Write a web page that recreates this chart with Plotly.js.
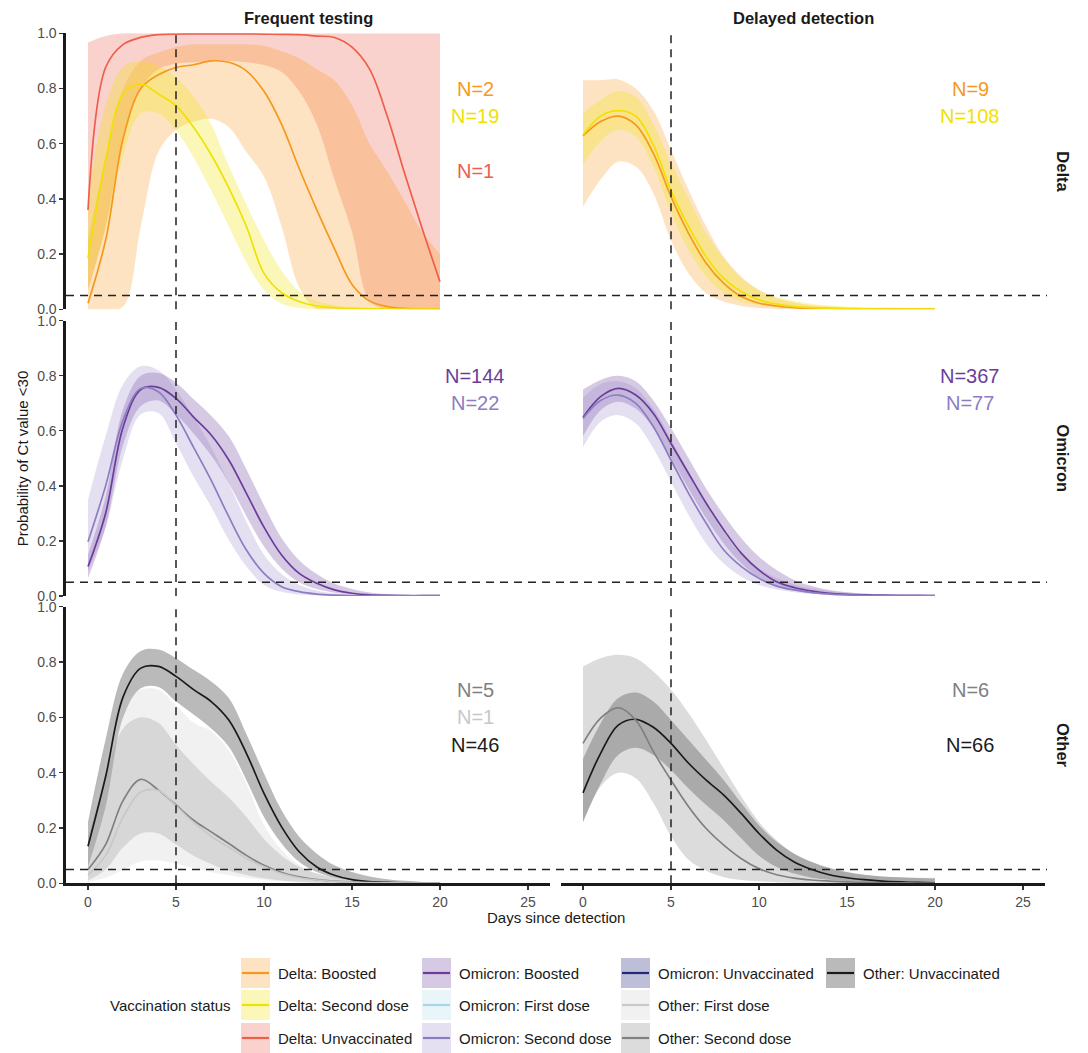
<!DOCTYPE html>
<html><head><meta charset="utf-8">
<script src="https://cdn.plot.ly/plotly-3.0.1.min.js"></script>
<style>html,body{margin:0;padding:0;background:#fff}#chart{width:1088px;height:1053px}</style>
</head><body><div id="chart"></div>
<script>
// ---------------- DATA ----------------
const days = [0,1,2,3,4,5,6,7,8,9,10,11,12,13,14,15,16,17,18,19,20];
const colTitles = ["Frequent testing", "Delayed detection"];
const rowTitles = ["Delta", "Omicron", "Other"];
const xTicks = [0,5,10,15,20,25];
const yTicks = [0,0.2,0.4,0.6,0.8,1.0];
const yTickText = ["0.0","0.2","0.4","0.6","0.8","1.0"];
const thresholdDay = 5;
const thresholdProb = 0.05;
const nLabelDay = 22;
const nLabelY = {"Boosted":0.8, "Second dose":0.7, "First dose":0.6, "Unvaccinated":0.5};

// Delta, Frequent testing
const dfBoostMid = [0.022,0.25,0.62,0.80,0.85,0.876,0.886,0.90,0.895,0.864,0.79,0.67,0.51,0.36,0.22,0.09,0.03,0.01,0.003,0.001,0.0005];
const dfBoostUp  = [0.25,0.55,0.80,0.90,0.93,0.95,0.96,0.96,0.96,0.96,0.955,0.935,0.91,0.87,0.83,0.74,0.60,0.50,0.39,0.28,0.20];
const dfBoostLo  = [0,0,0.01,0.30,0.57,0.65,0.68,0.69,0.66,0.57,0.48,0.30,0.08,0,0,0,0,0,0,0,0];
const dfSecMid = [0.185,0.54,0.78,0.816,0.78,0.737,0.66,0.56,0.44,0.30,0.13,0.06,0.028,0.012,0.006,0.003,0.002,0.001,0.001,0.001,0.001];
const dfSecUp  = [0.40,0.74,0.88,0.90,0.88,0.84,0.77,0.67,0.52,0.38,0.25,0.14,0.065,0.03,0.015,0.008,0.004,0.003,0.002,0.002,0.002];
const dfSecLo  = [0.07,0.29,0.56,0.71,0.71,0.65,0.55,0.43,0.30,0.17,0.07,0.02,0.005,0.001,0,0,0,0,0,0,0];
const dfUnvMid = [0.36,0.876,0.96,0.985,0.995,0.997,0.998,0.998,0.998,0.998,0.997,0.996,0.995,0.99,0.985,0.95,0.87,0.70,0.49,0.29,0.10];
const dfUnvUp  = [0.967,0.99,1,1,1,1,1,1,1,1,1,1,1,1,1,1,1,1,1,1,1];
const dfUnvLo  = [0.07,0.30,0.62,0.80,0.87,0.89,0.895,0.90,0.90,0.895,0.885,0.86,0.79,0.67,0.47,0.28,0.03,0,0,0,0];

// Delta, Delayed detection
const ddBoostMid = [0.628,0.68,0.70,0.668,0.565,0.408,0.275,0.167,0.094,0.046,0.022,0.012,0.006,0.003,0.002,0.001,0.001,0.001,0.001,0.001,0.001];
const ddBoostUp  = [0.83,0.83,0.833,0.80,0.72,0.577,0.432,0.30,0.19,0.118,0.07,0.04,0.025,0.015,0.01,0.007,0.005,0.004,0.003,0.003,0.002];
const ddBoostLo  = [0.372,0.47,0.535,0.517,0.42,0.25,0.13,0.058,0.028,0.012,0.005,0.002,0.001,0,0,0,0,0,0,0,0];
const ddSecMid = [0.632,0.70,0.72,0.70,0.595,0.43,0.30,0.19,0.112,0.064,0.034,0.019,0.01,0.006,0.004,0.002,0.002,0.001,0.001,0.001,0.001];
const ddSecUp  = [0.71,0.758,0.79,0.77,0.67,0.53,0.40,0.275,0.185,0.112,0.07,0.046,0.03,0.02,0.014,0.01,0.008,0.007,0.006,0.005,0.005];
const ddSecLo  = [0.523,0.61,0.65,0.626,0.517,0.35,0.215,0.118,0.058,0.028,0.016,0.008,0.003,0.002,0.001,0.001,0,0,0,0,0];

// Omicron, Frequent testing
const ofBoostMid = [0.107,0.30,0.615,0.75,0.758,0.718,0.65,0.585,0.494,0.373,0.25,0.149,0.082,0.046,0.022,0.01,0.004,0.002,0.001,0.001,0.001];
const ofBoostUp  = [0.15,0.36,0.68,0.80,0.81,0.775,0.715,0.655,0.58,0.46,0.33,0.21,0.13,0.08,0.045,0.025,0.013,0.007,0.004,0.002,0.002];
const ofBoostLo  = [0.065,0.25,0.55,0.69,0.71,0.66,0.59,0.51,0.41,0.29,0.18,0.10,0.05,0.025,0.012,0.006,0.002,0.001,0.001,0,0];
const ofSecMid = [0.197,0.40,0.64,0.754,0.742,0.657,0.54,0.42,0.288,0.167,0.082,0.034,0.016,0.007,0.003,0.001,0.001,0.001,0.001,0.001,0.001];
const ofSecUp  = [0.35,0.58,0.77,0.835,0.82,0.75,0.65,0.54,0.41,0.27,0.15,0.08,0.04,0.02,0.01,0.005,0.003,0.002,0.001,0.001,0.001];
const ofSecLo  = [0.09,0.25,0.50,0.66,0.665,0.555,0.433,0.324,0.203,0.107,0.04,0.015,0.005,0.002,0.001,0,0,0,0,0,0];

// Omicron, Delayed detection
const odBoostMid = [0.649,0.724,0.754,0.73,0.663,0.554,0.445,0.337,0.24,0.155,0.094,0.052,0.031,0.018,0.01,0.006,0.004,0.003,0.002,0.002,0.001];
const odBoostUp  = [0.75,0.785,0.80,0.78,0.71,0.61,0.50,0.39,0.294,0.21,0.143,0.094,0.058,0.036,0.022,0.014,0.009,0.006,0.004,0.003,0.002];
const odBoostLo  = [0.58,0.675,0.706,0.68,0.61,0.50,0.39,0.282,0.19,0.118,0.064,0.034,0.019,0.01,0.005,0.002,0.001,0.001,0,0,0];
const odSecMid = [0.645,0.71,0.73,0.70,0.615,0.494,0.373,0.264,0.167,0.107,0.064,0.036,0.022,0.012,0.007,0.004,0.002,0.002,0.001,0.001,0.001];
const odSecUp  = [0.72,0.77,0.78,0.755,0.68,0.57,0.45,0.33,0.23,0.15,0.10,0.065,0.042,0.028,0.018,0.012,0.008,0.005,0.004,0.003,0.002];
const odSecLo  = [0.54,0.633,0.657,0.627,0.536,0.415,0.294,0.19,0.118,0.07,0.04,0.024,0.014,0.008,0.005,0.002,0.001,0,0,0,0];

// Other, Frequent testing
const xfUnvMid = [0.134,0.385,0.675,0.778,0.784,0.748,0.70,0.657,0.59,0.47,0.325,0.204,0.114,0.059,0.029,0.013,0.006,0.003,0.001,0.001,0.001];
const xfUnvUp  = [0.222,0.52,0.76,0.84,0.845,0.814,0.772,0.73,0.67,0.54,0.397,0.264,0.168,0.107,0.065,0.041,0.025,0.015,0.009,0.005,0.003];
const xfUnvLo  = [0.06,0.277,0.60,0.705,0.71,0.657,0.61,0.56,0.494,0.373,0.24,0.144,0.077,0.041,0.02,0.011,0.005,0.002,0.001,0.001,0.001];
const xfSecMid = [0.05,0.14,0.30,0.376,0.337,0.283,0.228,0.186,0.144,0.101,0.065,0.039,0.023,0.013,0.008,0.005,0.003,0.002,0.002,0.001,0.001];
const xfSecUp  = [0.17,0.38,0.56,0.60,0.58,0.50,0.43,0.367,0.31,0.24,0.16,0.10,0.06,0.035,0.02,0.012,0.007,0.004,0.002,0.002,0.002];
const xfSecLo  = [0.01,0.05,0.13,0.18,0.18,0.14,0.10,0.07,0.045,0.03,0.018,0.01,0.006,0.003,0.002,0.001,0.001,0,0,0,0];
const xfFirMid = [0.03,0.10,0.24,0.33,0.335,0.28,0.22,0.17,0.13,0.09,0.06,0.035,0.02,0.012,0.007,0.004,0.002,0.002,0.001,0.001,0.001];
const xfFirUp  = [0.20,0.45,0.65,0.70,0.70,0.645,0.58,0.55,0.48,0.36,0.21,0.12,0.065,0.035,0.02,0.012,0.007,0.004,0.003,0.002,0.001];
const xfFirLo  = [0.005,0.02,0.05,0.08,0.082,0.07,0.055,0.04,0.03,0.02,0.012,0.007,0.003,0.002,0.001,0,0,0,0,0,0];

// Other, Delayed detection
const xdSecMid = [0.506,0.597,0.635,0.59,0.476,0.373,0.277,0.198,0.138,0.089,0.053,0.031,0.019,0.012,0.008,0.005,0.003,0.002,0.002,0.001,0.001];
const xdSecUp  = [0.784,0.814,0.826,0.814,0.766,0.70,0.615,0.518,0.415,0.313,0.222,0.156,0.107,0.077,0.053,0.039,0.03,0.025,0.022,0.02,0.02];
const xdSecLo  = [0.22,0.35,0.40,0.38,0.29,0.17,0.085,0.045,0.022,0.012,0.007,0.004,0.002,0.001,0.001,0,0,0,0,0,0];
const xdUnvMid = [0.327,0.47,0.572,0.593,0.564,0.506,0.434,0.373,0.319,0.252,0.18,0.12,0.077,0.05,0.031,0.02,0.013,0.008,0.005,0.003,0.002];
const xdUnvUp  = [0.45,0.578,0.67,0.69,0.657,0.59,0.518,0.446,0.373,0.289,0.21,0.15,0.107,0.077,0.056,0.041,0.031,0.025,0.022,0.019,0.017];
const xdUnvLo  = [0.222,0.36,0.464,0.49,0.464,0.41,0.343,0.283,0.228,0.162,0.10,0.059,0.035,0.02,0.013,0.008,0.005,0.003,0.002,0.001,0.001];

// Sample sizes
const nDeltaFreq = [2, 19, 1];      // Boosted, Second dose, Unvaccinated
const nDeltaDelay = [9, 108];       // Boosted, Second dose
const nOmiFreq = [144, 22];         // Boosted, Second dose
const nOmiDelay = [367, 77];        // Boosted, Second dose
const nOtherFreq = [5, 1, 46];      // Second dose, First dose, Unvaccinated
const nOtherDelay = [6, 66];        // Second dose, Unvaccinated

// Legend entries (column-major, 3 rows)
const legendNames = ["Delta: Boosted","Delta: Second dose","Delta: Unvaccinated",
  "Omicron: Boosted","Omicron: First dose","Omicron: Second dose",
  "Omicron: Unvaccinated","Other: First dose","Other: Second dose","Other: Unvaccinated"];

// ---------------- STYLE ----------------
const lineColor = {
  "Delta: Boosted":"#F7981D","Delta: Second dose":"#F0E100","Delta: Unvaccinated":"#EE5E4B",
  "Omicron: Boosted":"#6A3D9A","Omicron: First dose":"#A6D6E8","Omicron: Second dose":"#8E7CC3",
  "Omicron: Unvaccinated":"#26287A","Other: First dose":"#C8C8C8","Other: Second dose":"#808080",
  "Other: Unvaccinated":"#1A1A1A"
};
const fillAlpha = {
  "Delta: Boosted":0.27,"Delta: Second dose":0.28,"Delta: Unvaccinated":0.28,
  "Omicron: Boosted":0.28,"Omicron: First dose":0.25,"Omicron: Second dose":0.24,
  "Omicron: Unvaccinated":0.3,"Other: First dose":0.25,"Other: Second dose":0.28,
  "Other: Unvaccinated":0.3
};
function rgba(hex, a){
  const v = parseInt(hex.slice(1),16);
  return `rgba(${(v>>16)&255},${(v>>8)&255},${v&255},${a})`;
}
const FONT = "Liberation Sans, Arial, Helvetica, sans-serif";
const W = 1088, H = 1053;
const px = v => v / W, py = v => 1 - v / H;

// panel geometry (pixels)
const colX = [[66, 550], [561, 1045]];
const rowY = [[33.3, 309.3], [320.7, 596], [606.7, 883.3]];

// ---------------- PANELS ----------------
const panels = [
  {r:0,c:0,series:[
    {name:"Delta: Unvaccinated", st:"Unvaccinated", mid:dfUnvMid, up:dfUnvUp, lo:dfUnvLo, n:nDeltaFreq[2]},
    {name:"Delta: Boosted", st:"Boosted", mid:dfBoostMid, up:dfBoostUp, lo:dfBoostLo, n:nDeltaFreq[0]},
    {name:"Delta: Second dose", st:"Second dose", mid:dfSecMid, up:dfSecUp, lo:dfSecLo, n:nDeltaFreq[1]}]},
  {r:0,c:1,series:[
    {name:"Delta: Boosted", st:"Boosted", mid:ddBoostMid, up:ddBoostUp, lo:ddBoostLo, n:nDeltaDelay[0]},
    {name:"Delta: Second dose", st:"Second dose", mid:ddSecMid, up:ddSecUp, lo:ddSecLo, n:nDeltaDelay[1]}]},
  {r:1,c:0,series:[
    {name:"Omicron: Boosted", st:"Boosted", mid:ofBoostMid, up:ofBoostUp, lo:ofBoostLo, n:nOmiFreq[0]},
    {name:"Omicron: Second dose", st:"Second dose", mid:ofSecMid, up:ofSecUp, lo:ofSecLo, n:nOmiFreq[1]}]},
  {r:1,c:1,series:[
    {name:"Omicron: Boosted", st:"Boosted", mid:odBoostMid, up:odBoostUp, lo:odBoostLo, n:nOmiDelay[0]},
    {name:"Omicron: Second dose", st:"Second dose", mid:odSecMid, up:odSecUp, lo:odSecLo, n:nOmiDelay[1]}]},
  {r:2,c:0,series:[
    {name:"Other: Unvaccinated", st:"Unvaccinated", mid:xfUnvMid, up:xfUnvUp, lo:xfUnvLo, n:nOtherFreq[2]},
    {name:"Other: Second dose", st:"Second dose", mid:xfSecMid, up:xfSecUp, lo:xfSecLo, n:nOtherFreq[0]},
    {name:"Other: First dose", st:"First dose", mid:xfFirMid, up:xfFirUp, lo:xfFirLo, n:nOtherFreq[1]}]},
  {r:2,c:1,series:[
    {name:"Other: Unvaccinated", st:"Unvaccinated", mid:xdUnvMid, up:xdUnvUp, lo:xdUnvLo, n:nOtherDelay[1]},
    {name:"Other: Second dose", st:"Second dose", mid:xdSecMid, up:xdSecUp, lo:xdSecLo, n:nOtherDelay[0]}]}
];

const ribbons = [], lines = [], annotations = [], shapes = [];
const layout = {
  width: W, height: H, margin:{l:0,r:0,t:0,b:0}, autosize:false,
  paper_bgcolor:"#fff", plot_bgcolor:"rgba(0,0,0,0)", showlegend:false,
  font:{family:FONT, size:14, color:"#1a1a1a"}
};
const dashStyle = {color:"#222", width:1.5, dash:"8px,6px"};
const TICKFONT = {size:14, color:"#4d4d4d", family:FONT};

panels.forEach((pnl, i) => {
  const p = i + 1, sfx = p === 1 ? "" : String(p);
  const xa = "x" + sfx, ya = "y" + sfx;
  const bottom = pnl.r === 2, left = pnl.c === 0;
  layout["xaxis" + sfx] = {
    domain:[px(colX[pnl.c][0]), px(colX[pnl.c][1])], range:[-1.25, 26.25], anchor:ya,
    showgrid:false, zeroline:false, showline:bottom, linecolor:"#1a1a1a", linewidth:2.6,
    ticks: bottom ? "outside" : "", ticklen:4, tickwidth:1.3, tickcolor:"#333",
    tickvals:xTicks, showticklabels:bottom, tickfont:TICKFONT
  };
  layout["yaxis" + sfx] = {
    domain:[py(rowY[pnl.r][1]), py(rowY[pnl.r][0])], range:[0,1], anchor:xa,
    showgrid:false, zeroline:false, showline:left, linecolor:"#1a1a1a", linewidth:2.6,
    ticks: left ? "outside" : "", ticklen:4, tickwidth:1.3, tickcolor:"#333",
    tickvals:yTicks, ticktext:yTickText, showticklabels:left, tickfont:TICKFONT
  };
  pnl.series.forEach(s => {
    const common = {x:days, xaxis:xa, yaxis:ya, mode:"lines", hoverinfo:"skip", showlegend:false};
    ribbons.push(Object.assign({}, common, {y:s.lo, line:{width:0, shape:"spline", smoothing:1}}));
    ribbons.push(Object.assign({}, common, {y:s.up, line:{width:0, shape:"spline", smoothing:1},
      fill:"tonexty", fillcolor:rgba(lineColor[s.name], fillAlpha[s.name])}));
    lines.push(Object.assign({}, common, {y:s.mid, line:{width:1.7, shape:"spline", smoothing:1, color:lineColor[s.name]}}));
    annotations.push({xref:xa, yref:ya, x:nLabelDay, y:nLabelY[s.st], text:"N=" + s.n, showarrow:false,
      xanchor:"center", yanchor:"middle", font:{size:20, color:lineColor[s.name], family:FONT}});
  });
  // threshold lines
  shapes.push({type:"line", xref:xa, yref:ya + " domain", x0:thresholdDay, x1:thresholdDay, y0:0, y1:1, line:dashStyle});
  if (left) {
    shapes.push({type:"line", xref:"paper", yref:ya, x0:px(colX[0][0]), x1:px(colX[1][1]+2), y0:thresholdProb, y1:thresholdProb, line:dashStyle});
  }
});

// strip titles
colTitles.forEach((t, c) => annotations.push({xref:"paper", yref:"paper", x:px((colX[c][0]+colX[c][1])/2), y:py(18),
  text:"<b>" + t + "</b>", showarrow:false, xanchor:"center", yanchor:"middle", font:{size:16.5, color:"#1a1a1a", family:FONT}}));
rowTitles.forEach((t, r) => annotations.push({xref:"paper", yref:"paper", x:px(1063), y:py((rowY[r][0]+rowY[r][1])/2),
  text:"<b>" + t + "</b>", textangle:90, showarrow:false, xanchor:"center", yanchor:"middle", font:{size:16.5, color:"#1a1a1a", family:FONT}}));
// axis titles
annotations.push({xref:"paper", yref:"paper", x:px(22), y:py((rowY[0][0]+rowY[2][1])/2), text:"Probability of Ct value &lt;30",
  textangle:-90, showarrow:false, xanchor:"center", yanchor:"middle", font:{size:15, color:"#1a1a1a", family:FONT}});
annotations.push({xref:"paper", yref:"paper", x:px((colX[0][0]+colX[1][1])/2), y:py(917), text:"Days since detection",
  showarrow:false, xanchor:"center", yanchor:"middle", font:{size:15, color:"#1a1a1a", family:FONT}});

// legend (drawn manually)
const legColX = [241, 422, 621, 826];
const legRowY = [973, 1005, 1038];
const keyW = 29, keyH = 30;
annotations.push({xref:"paper", yref:"paper", x:px(233), y:py(legRowY[1]), text:"Vaccination status", showarrow:false,
  xanchor:"right", yanchor:"middle", font:{size:15, color:"#1a1a1a", family:FONT}});
legendNames.forEach((nm, k) => {
  const col = Math.floor(k / 3), row = k % 3;
  const x0 = legColX[col], yc = legRowY[row];
  shapes.push({type:"rect", xref:"paper", yref:"paper", x0:px(x0), x1:px(x0+keyW), y0:py(yc+keyH/2), y1:py(yc-keyH/2),
    fillcolor:rgba(lineColor[nm], fillAlpha[nm]), line:{width:0}});
  shapes.push({type:"line", xref:"paper", yref:"paper", x0:px(x0+1), x1:px(x0+keyW-1), y0:py(yc), y1:py(yc),
    line:{color:lineColor[nm], width:2.2}});
  annotations.push({xref:"paper", yref:"paper", x:px(x0+keyW+6), y:py(yc), text:nm, showarrow:false,
    xanchor:"left", yanchor:"middle", font:{size:15, color:"#1a1a1a", family:FONT}});
});

layout.annotations = annotations;
layout.shapes = shapes;
Plotly.newPlot("chart", ribbons.concat(lines), layout, {staticPlot:true, displayModeBar:false});
</script>
</body></html>
